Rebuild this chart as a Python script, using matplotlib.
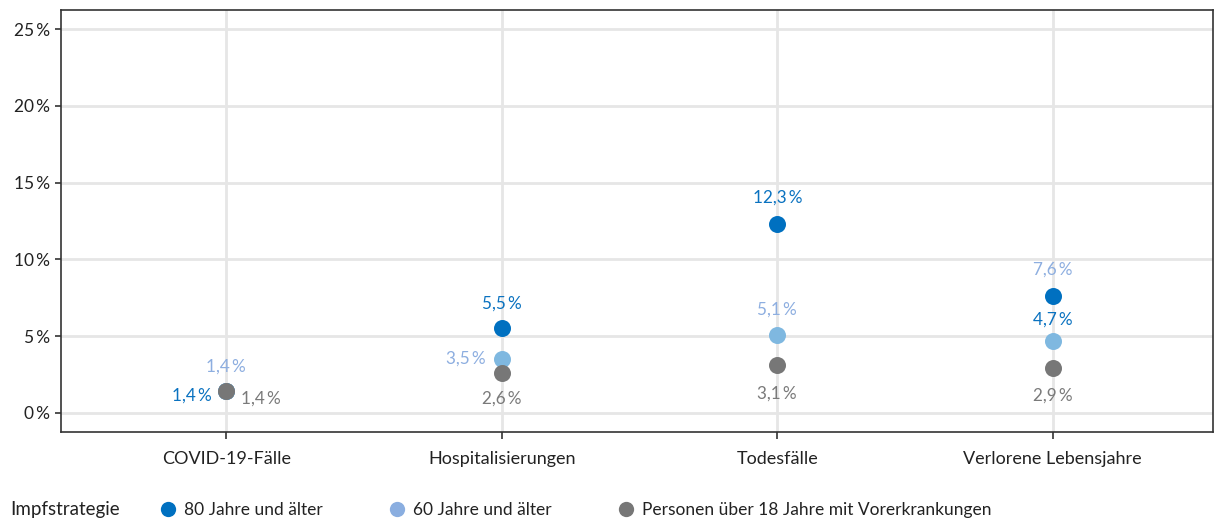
"""
Impfstrategie - Vergleich der Reduktion nach Endpunkt
Dot chart: three vaccination strategies per outcome
"""

import matplotlib.pyplot as plt
from matplotlib.lines import Line2D

plt.rcParams['font.family'] = ['Lato', 'DejaVu Sans']

# --- data ---
categories = ['COVID-19-Fälle', 'Hospitalisierungen', 'Todesfälle', 'Verlorene Lebensjahre']
strategies = ['80 Jahre und älter', '60 Jahre und älter',
              'Personen über 18 Jahre mit Vorerkrankungen']
val_80 = [1.4, 5.5, 12.3, 7.6]
val_60 = [1.4, 3.5, 5.1, 4.7]
val_vor = [1.4, 2.6, 3.1, 2.9]
y_ticks = [0, 5, 10, 15, 20, 25]

# --- colours ---
DOT = ['#0070c0', '#7fb8e0', '#777777']
TXT = ['#0a72c0', '#8daee0', '#7a7a7a']
LEG = ['#0070c0', '#8aaee0', '#777777']
GRID = '#e6e6e6'


def fmt(v):
    return f'{v:.1f}'.replace('.', ',') + '\u2009%'


fig = plt.figure(figsize=(12.15, 5.2), dpi=100)
ax = fig.add_axes([0.0502, 0.1692, 0.9478, 0.8116])

x = list(range(len(categories)))
series = [val_80, val_60, val_vor]

for k in [0, 1, 2]:
    ax.scatter(x, series[k], s=150, color=DOT[k], zorder=3 + k, linewidths=0)

# labels: (series index, category index, dx px, dy px, ha, colour index)
label_spec = [
    (1, 0, 0, 25, 'center', 1),
    (0, 0, -15, -4, 'right', 0),
    (2, 0, 15, -7, 'left', 2),
    (0, 1, 0, 25, 'center', 0),
    (1, 1, -16, 0, 'right', 1),
    (2, 1, 0, -26, 'center', 2),
    (0, 2, 0, 26, 'center', 0),
    (1, 2, 0, 25, 'center', 1),
    (2, 2, 0, -28, 'center', 2),
    (0, 3, 0, 27, 'center', 1),
    (1, 3, 0, 21, 'center', 0),
    (2, 3, 0, -27, 'center', 2),
]
for s, c, dx, dy, ha, col in label_spec:
    ax.annotate(fmt(series[s][c]), (x[c], series[s][c]), xytext=(dx * 0.72, dy * 0.72),
                textcoords='offset points', ha=ha, va='center',
                fontsize=12.3, color=TXT[col], zorder=7)

ax.set_xlim(-0.6, 3.58)
ax.set_ylim(-1.25, 26.25)
ax.set_xticks(x)
ax.set_xticklabels(categories, fontsize=13, color='#222222')
ax.set_yticks(y_ticks)
ax.set_yticklabels([f'{t}\u2009%' for t in y_ticks], fontsize=12.5, color='#222222')
ax.tick_params(axis='x', length=5, width=1.2, color='#333333', pad=9)
ax.tick_params(axis='y', length=4, width=1.2, color='#333333', pad=4)

ax.grid(True, color=GRID, linewidth=2)
ax.set_axisbelow(True)
for sp in ax.spines.values():
    sp.set_color('#333333')
    sp.set_linewidth(1.2)

# legend at bottom
fig.text(10 / 1215, 1 - 510 / 520, 'Impfstrategie', fontsize=13.5, color='#222222',
         va='center', ha='left')
handles = [Line2D([], [], marker='o', linestyle='', markersize=11,
                  markerfacecolor=c, markeredgewidth=0) for c in LEG]
fig.legend(handles, strategies, ncol=3, frameon=False, fontsize=12.5,
           loc='center left', bbox_to_anchor=(159 / 1215, 1 - 510 / 520),
           borderaxespad=0, borderpad=0,
           handletextpad=0.45, columnspacing=3.75, handlelength=1.0,
           labelcolor='#222222')

fig.savefig('out.png', dpi=100)
